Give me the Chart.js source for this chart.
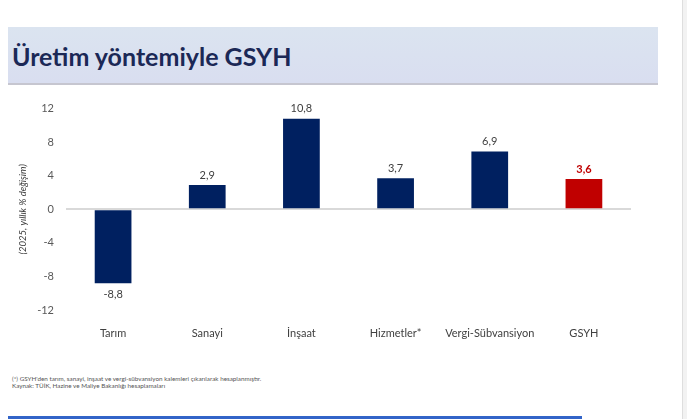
<!DOCTYPE html>
<html>
<head>
<meta charset="utf-8">
<script src="https://cdn.jsdelivr.net/npm/chart.js@4"></script>
<style>
  html, body { margin: 0; padding: 0; background: #fff; }
  body { width: 687px; height: 419px; position: relative; overflow: hidden; font-family: Lato, sans-serif; }
  #header {
    position: absolute; left: 8px; top: 27px; width: 650px; height: 56px;
    background: linear-gradient(#dbe4f0, #d9def0);
    border-bottom: 2px solid #c6c6d0;
  }
  #title {
    position: absolute; left: 12px; top: 44px; font-size: 25px; line-height: 25px;
    font-weight: bold; color: #1b2856; white-space: nowrap;
  }
  #chart-box { position: absolute; left: 0; top: 90px; width: 660px; height: 250px; }
  #note {
    position: absolute; left: 12px; top: 376px; font-size: 6.3px; line-height: 6.5px;
    color: #555; white-space: nowrap;
  }
  #band { position: absolute; left: 8px; top: 416px; width: 574px; height: 3px; background: #3264c8; }
  #edge { position: absolute; left: 682px; top: 0; width: 5px; height: 419px; background: #f2f2f2; border-left: 1px solid #dedede; }
</style>
</head>
<body>
<div id="header"></div>
<div id="title">Üretim yöntemiyle GSYH</div>
<div id="chart-box"><canvas id="chartCanvas"></canvas></div>
<div id="note">(*) GSYH'den tarım, sanayi, inşaat ve vergi-sübvansiyon kalemleri çıkarılarak hesaplanmıştır.<br>Kaynak: TÜİK, Hazine ve Maliye Bakanlığı hesaplamaları</div>
<div id="band"></div>
<div id="edge"></div>
<script>
const categories = ['Tarım', 'Sanayi', 'İnşaat', 'Hizmetler*', 'Vergi-Sübvansiyon', 'GSYH'];
const growth = [-8.8, 2.9, 10.8, 3.7, 6.9, 3.6];
const barColors = ['#002060', '#002060', '#002060', '#002060', '#002060', '#c00000'];
const yTicks = [-12, -8, -4, 0, 4, 8, 12];
const yTitle = '(2025, yıllık % değişim)';

const FONT = 'Lato, sans-serif';

// value labels above / below each bar
const valueLabels = {
  id: 'valueLabels',
  afterDatasetsDraw(chart) {
    const c = chart.ctx;
    const meta = chart.getDatasetMeta(0);
    c.save();
    c.textAlign = 'center';
    c.textBaseline = 'middle';
    meta.data.forEach(function(bar, i) {
      const v = growth[i];
      const isTotal = i === growth.length - 1;
      c.font = (isTotal ? 'bold ' : '') + '11px ' + FONT;
      c.fillStyle = isTotal ? '#c00000' : '#404040';
      const txt = v.toFixed(1).replace('.', ',');
      const y = v >= 0 ? bar.y - 10 : bar.y + 11;
      c.fillText(txt, bar.x, y);
    });
    c.restore();
  }
};

const ctx = document.getElementById('chartCanvas').getContext('2d');
new Chart(ctx, {
  type: 'bar',
  data: {
    labels: categories,
    datasets: [{
      data: growth,
      backgroundColor: barColors,
      borderWidth: 0,
      barPercentage: 0.39,
      categoryPercentage: 1
    }]
  },
  options: {
    responsive: true,
    maintainAspectRatio: false,
    animation: false,
    layout: { padding: { top: 18, right: 29, bottom: 0, left: 0 } },
    plugins: { legend: { display: false }, tooltip: { enabled: false } },
    scales: {
      x: {
        grid: { display: false },
        border: { display: false },
        ticks: { font: { family: FONT, size: 11 }, color: '#404040', padding: 9, maxRotation: 0 },
        afterFit: function(s) { s.height = 30; }
      },
      y: {
        min: -12,
        max: 12,
        afterBuildTicks: function(s) { s.ticks = yTicks.map(function(v) { return { value: v }; }); },
        grid: {
          drawTicks: false,
          lineWidth: 2,
          color: function(c) { return c.tick && c.tick.value === 0 ? '#d9d9d9' : 'rgba(0,0,0,0)'; }
        },
        border: { display: false },
        ticks: { font: { family: FONT, size: 11 }, color: '#595959', padding: 12 },
        title: {
          display: true,
          text: yTitle,
          color: '#404040',
          font: { family: FONT, size: 9.5, style: 'italic' },
          padding: { top: 17, bottom: 0 }
        },
        afterFit: function(s) { s.width = 66; }
      }
    }
  },
  plugins: [valueLabels]
});
</script>
</body>
</html>
